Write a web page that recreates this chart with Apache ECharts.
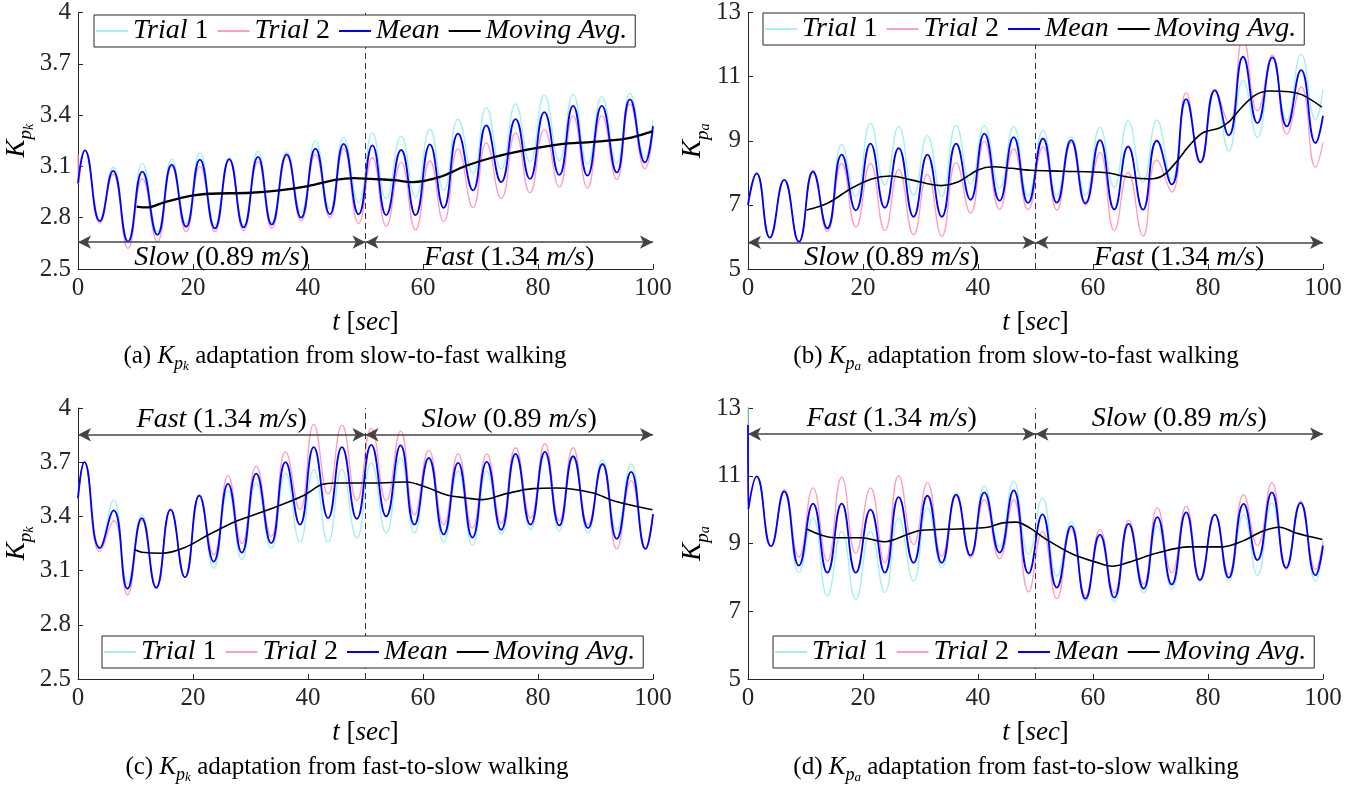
<!DOCTYPE html>
<html><head><meta charset="utf-8">
<script src="https://cdn.jsdelivr.net/npm/echarts@6/dist/echarts.min.js"></script>
<style>html,body{margin:0;padding:0;background:#fff}#c{width:1371px;height:789px}</style>
</head><body><div id="c"></div>
<script>
// ---------- data ----------
const xTicks = [0, 20, 40, 60, 80, 100];
const yTicksK = [2.5, 2.8, 3.1, 3.4, 3.7, 4];
const yTicksA = [5, 7, 9, 11, 13];
const seriesNames = ['Trial 1', 'Trial 2', 'Mean', 'Moving Avg.'];
const switchT = 50;
const phaseSpan = [0, 50, 100];
const phaseY = [2.657, 5.83, 3.852, 12.23];

// (a) K_pk slow-to-fast
const a_trial1 = [[0,3.0],[1.2,3.194],[3.8,2.78],[6.1,3.095],[8.7,2.67],[11.2,3.118],[13.8,2.718],[16.3,3.143],[18.8,2.766],[21.2,3.181],[23.8,2.756],[26.3,3.15],[28.8,2.756],[31.3,3.189],[33.7,2.775],[36.3,3.185],[38.8,2.832],[41.3,3.251],[43.8,2.85],[46.2,3.27],[48.8,2.89],[51.2,3.296],[53.6,2.911],[56.2,3.277],[58.7,2.92],[61.2,3.319],[63.6,2.96],[66.1,3.377],[68.7,3.061],[71.0,3.444],[73.6,3.085],[76.1,3.465],[78.6,3.127],[81.1,3.517],[83.7,3.133],[86.1,3.523],[88.6,3.113],[91.1,3.508],[93.7,3.12],[96.0,3.527],[98.6,3.15],[100,3.373]];
const a_trial2 = [[0,3.17],[0.1,3.0],[1.2,3.194],[3.8,2.77],[6.1,3.055],[8.7,2.62],[11.2,3.029],[13.8,2.66],[16.3,3.1],[18.8,2.718],[21.2,3.1],[23.8,2.718],[26.3,3.135],[28.8,2.724],[31.3,3.128],[33.7,2.737],[36.3,3.16],[38.8,2.78],[41.3,3.17],[43.8,2.80],[46.2,3.204],[48.8,2.766],[51.2,3.152],[53.6,2.752],[56.2,3.123],[58.7,2.729],[61.2,3.133],[63.6,2.777],[66.1,3.204],[68.7,2.86],[71.0,3.238],[73.6,2.911],[76.1,3.296],[78.6,2.946],[81.1,3.315],[83.7,2.979],[86.1,3.396],[88.6,2.973],[91.1,3.396],[93.7,3.023],[96.0,3.465],[98.6,3.085],[100,3.315]];
const a_mean = [[0,3.0],[1.2,3.194],[3.8,2.78],[6.1,3.074],[8.7,2.66],[11.2,3.07],[13.8,2.70],[16.3,3.11],[18.8,2.747],[21.2,3.14],[23.8,2.737],[26.3,3.143],[28.8,2.743],[31.3,3.156],[33.7,2.76],[36.3,3.17],[38.8,2.80],[41.3,3.204],[43.8,2.82],[46.2,3.232],[48.8,2.82],[51.2,3.223],[53.6,2.815],[56.2,3.196],[58.7,2.815],[61.2,3.229],[63.6,2.858],[66.1,3.292],[68.7,2.96],[71.0,3.34],[73.6,3.008],[76.1,3.377],[78.6,3.027],[81.1,3.417],[83.7,3.05],[86.1,3.454],[88.6,3.046],[91.1,3.454],[93.7,3.065],[96.0,3.492],[98.6,3.123],[100,3.335]];
const a_mavg = [[10.2,2.865],[12,2.86],[15,2.89],[20,2.93],[23,2.94],[30,2.946],[35,2.96],[40,2.985],[45,3.023],[48,3.032],[51,3.027],[55,3.02],[58.2,3.008],[62.8,3.037],[67.5,3.104],[72.1,3.152],[77.9,3.196],[83.7,3.229],[89.5,3.244],[95.3,3.262],[100,3.306]];

// (b) K_pa slow-to-fast
const b_trial1 = [[0,7.0],[1.5,7.98],[3.8,5.98],[6.3,7.78],[8.85,5.85],[11.3,8.0],[13.8,6.3],[16.3,8.88],[18.75,7.26],[21.3,9.55],[23.8,7.62],[26.2,9.45],[28.8,7.3],[31.2,9.16],[33.7,7.26],[36.2,9.47],[38.7,7.65],[41.1,9.47],[43.75,7.52],[46.2,9.45],[48.7,7.28],[51.3,9.32],[53.7,7.3],[56.2,9.12],[58.7,7.3],[61.2,9.42],[63.7,7.55],[66.1,9.62],[68.7,7.7],[71.1,9.65],[73.7,7.8],[76.2,10.2],[78.7,8.4],[81.2,10.55],[83.6,8.68],[86.1,10.88],[88.6,9.1],[91.2,11.6],[93.7,9.65],[96.2,11.7],[98.7,9.66],[100,10.62]];
const b_trial2 = [[0,7.0],[1.5,7.98],[3.8,5.98],[6.3,7.78],[8.85,5.85],[11.3,8.08],[13.8,6.17],[16.3,8.29],[18.75,6.31],[21.3,8.29],[23.8,6.2],[26.2,8.11],[28.8,6.07],[31.2,7.95],[33.7,6.02],[36.2,8.32],[38.7,6.74],[41.1,8.98],[43.75,6.86],[46.2,8.75],[48.7,6.85],[51.3,8.81],[53.7,6.84],[56.2,8.95],[58.7,7.0],[61.2,8.63],[63.7,6.2],[66.1,8.01],[68.7,6.03],[71.1,8.4],[73.7,7.4],[76.2,10.5],[78.7,8.3],[81.2,10.6],[83.6,9.57],[86.1,12.2],[88.6,9.93],[91.2,11.68],[93.7,9.2],[96.2,10.68],[98.7,8.18],[100,8.95]];
const b_mean = [[0,7.0],[1.5,7.98],[3.8,5.98],[6.3,7.78],[8.85,5.85],[11.3,8.04],[13.8,6.27],[16.3,8.57],[18.75,6.83],[21.3,8.91],[23.8,6.91],[26.2,8.77],[28.8,6.63],[31.2,8.57],[33.7,6.63],[36.2,8.91],[38.7,7.16],[41.1,9.22],[43.75,7.13],[46.2,9.11],[48.7,7.06],[51.3,9.07],[53.7,7.07],[56.2,9.02],[58.7,7.05],[61.2,9.02],[63.7,6.86],[66.1,8.82],[68.7,6.85],[71.1,9.0],[73.7,7.64],[76.2,10.3],[78.7,8.33],[81.2,10.57],[83.6,9.17],[86.1,11.62],[88.6,9.55],[91.2,11.6],[93.7,9.45],[96.2,11.2],[98.7,8.93],[100,9.78]];
const b_mavg = [[10.2,6.84],[13.9,7.06],[18,7.52],[21.5,7.81],[24.7,7.9],[28.4,7.78],[33.6,7.6],[36.5,7.71],[40,8.09],[42.6,8.19],[45.8,8.14],[49.2,8.08],[54.8,8.05],[62.3,8.0],[66.3,7.86],[69.8,7.81],[72.1,7.91],[74.4,8.32],[76.7,8.84],[79.1,9.25],[82,9.4],[83.7,9.6],[86,10.07],[88.3,10.43],[90.6,10.55],[94.1,10.53],[96.4,10.43],[99.8,10.05]];

// (c) K_pk fast-to-slow
const c_trial1 = [[0,3.50],[1.1,3.70],[3.8,3.23],[6.2,3.49],[8.6,3.03],[11.1,3.41],[13.6,3.005],[16.1,3.437],[18.6,3.063],[21.1,3.515],[23.6,3.113],[26.1,3.543],[28.5,3.16],[31.0,3.585],[33.6,3.224],[36.1,3.64],[38.6,3.257],[41.0,3.659],[43.5,3.256],[45.9,3.66],[48.5,3.28],[51.0,3.696],[53.6,3.307],[56.1,3.724],[58.5,3.307],[61.0,3.715],[63.6,3.256],[66.1,3.65],[68.6,3.239],[71.1,3.65],[73.6,3.30],[76.1,3.733],[78.7,3.326],[81.2,3.742],[83.7,3.317],[86.1,3.724],[88.7,3.307],[91.2,3.715],[93.7,3.326],[96.2,3.69],[98.7,3.225],[100,3.41]];
const c_trial2 = [[0,3.50],[1.1,3.70],[3.8,3.205],[6.2,3.376],[8.6,2.965],[11.1,3.38],[13.6,3.005],[16.1,3.437],[18.6,3.063],[21.1,3.52],[23.6,3.187],[26.1,3.626],[28.5,3.25],[31.0,3.678],[33.6,3.289],[36.1,3.757],[38.6,3.437],[41.0,3.909],[43.5,3.524],[45.9,3.905],[48.5,3.487],[51.0,3.887],[53.6,3.487],[56.1,3.872],[58.5,3.41],[61.0,3.765],[63.6,3.354],[66.1,3.746],[68.6,3.335],[71.1,3.746],[73.6,3.363],[76.1,3.78],[78.7,3.39],[81.2,3.802],[83.7,3.376],[86.1,3.78],[88.7,3.354],[91.2,3.687],[93.7,3.22],[96.2,3.598],[98.7,3.22],[100,3.41]];
const c_mean = [[0,3.50],[1.1,3.70],[3.8,3.224],[6.2,3.433],[8.6,3.0],[11.1,3.39],[13.6,3.005],[16.1,3.437],[18.6,3.063],[21.1,3.515],[23.6,3.15],[26.1,3.58],[28.5,3.2],[31.0,3.637],[33.6,3.252],[36.1,3.70],[38.6,3.354],[41.0,3.783],[43.5,3.39],[45.9,3.783],[48.5,3.387],[51.0,3.796],[53.6,3.40],[56.1,3.793],[58.5,3.354],[61.0,3.724],[63.6,3.30],[66.1,3.696],[68.6,3.283],[71.1,3.702],[73.6,3.326],[76.1,3.746],[78.7,3.354],[81.2,3.757],[83.7,3.35],[86.1,3.733],[88.7,3.335],[91.2,3.69],[93.7,3.276],[96.2,3.646],[98.7,3.22],[100,3.413]];
const c_mavg = [[9.9,3.215],[11.1,3.202],[14.6,3.196],[18.6,3.228],[22.7,3.298],[27.4,3.372],[32,3.424],[36.6,3.48],[39.5,3.52],[42.4,3.576],[44.8,3.585],[51.7,3.585],[57.1,3.59],[60.6,3.561],[64,3.52],[67.5,3.502],[70.4,3.493],[74.5,3.526],[79.1,3.554],[83.2,3.557],[89.6,3.53],[93.1,3.487],[99.9,3.437]];

// (d) K_pa fast-to-slow
const d_trial1 = [[0,13.0],[0.05,10.0],[1.5,10.98],[4.0,8.92],[6.3,10.54],[8.85,8.14],[11.3,9.75],[13.8,7.45],[16.3,9.36],[18.75,7.35],[21.3,9.36],[23.8,7.55],[26.2,9.75],[28.8,7.89],[31.2,10.05],[33.7,8.28],[36.2,10.5],[38.7,8.63],[41.1,10.7],[43.75,8.9],[46.2,10.85],[48.8,8.68],[51.2,10.34],[53.7,8.04],[56.2,9.64],[58.7,7.30],[61.2,9.22],[63.7,7.27],[66.2,9.61],[68.8,7.53],[71.2,9.51],[73.7,7.65],[76.2,9.95],[78.6,7.88],[81.2,9.85],[83.6,7.89],[86.2,9.85],[88.6,8.06],[91.1,10.19],[93.6,8.35],[96.1,10.2],[98.7,7.89],[100,8.85]];
const d_trial2 = [[0,12.0],[0.05,10.0],[1.5,10.98],[4.0,8.92],[6.3,10.6],[8.85,8.6],[11.3,10.64],[13.8,8.48],[16.3,10.96],[18.75,8.71],[21.3,10.64],[23.8,8.43],[26.2,11.0],[28.8,8.97],[31.2,10.8],[33.7,8.63],[36.2,10.39],[38.7,8.58],[41.1,10.29],[43.75,8.55],[46.2,10.29],[48.8,7.57],[51.2,9.36],[53.7,7.37],[56.2,9.43],[58.7,7.45],[61.2,9.41],[63.7,7.55],[66.2,9.69],[68.8,7.8],[71.2,10.05],[73.7,8.14],[76.2,10.1],[78.6,7.95],[81.2,9.85],[83.6,8.09],[86.2,10.44],[88.6,8.94],[91.1,10.8],[93.6,8.24],[96.1,10.25],[98.7,8.24],[100,9.07]];
const d_mean = [[0,12.5],[0.05,10.0],[1.5,10.98],[4.0,8.92],[6.3,10.54],[8.85,8.35],[11.3,10.18],[13.8,8.14],[16.3,10.18],[18.75,8.14],[21.3,10.0],[23.8,8.14],[26.2,10.37],[28.8,8.43],[31.2,10.41],[33.7,8.43],[36.2,10.44],[38.7,8.65],[41.1,10.51],[43.75,8.73],[46.2,10.57],[48.8,8.12],[51.2,9.86],[53.7,7.70],[56.2,9.51],[58.7,7.37],[61.2,9.26],[63.7,7.40],[66.2,9.58],[68.8,7.67],[71.2,9.78],[73.7,7.79],[76.2,9.92],[78.6,7.92],[81.2,9.85],[83.6,7.99],[86.2,10.17],[88.6,8.51],[91.1,10.51],[93.6,8.28],[96.1,10.2],[98.7,8.06],[100,8.94]];
const d_mavg = [[10.2,9.43],[15.1,9.17],[19.7,9.17],[23.8,9.05],[25.5,9.12],[30.2,9.39],[36.5,9.43],[41.7,9.48],[44.3,9.61],[46.6,9.63],[49,9.46],[51.6,9.15],[56.5,8.68],[60.5,8.45],[63.4,8.33],[66.3,8.45],[71,8.71],[76.7,8.9],[82.5,8.9],[86,9.07],[89.5,9.36],[92.4,9.48],[95.3,9.31],[99.9,9.12]];

// ---------- styling / layout ----------
const FONT = 'Liberation Serif';
const AX = '#262626';
const colors = ['#a4f0f0', '#ff9cc3', '#0000ff', '#000000'];
const widths = [1.3, 1.3, 1.8, 1.8];

function mathRich(size) {
  return {
    i: {fontFamily: FONT, fontStyle: 'italic', fontSize: size, color: '#000'},
    u: {fontFamily: FONT, fontSize: size, color: '#000'}
  };
}
function kRich(size) {
  return {
    K: {fontFamily: FONT, fontStyle: 'italic', fontSize: size, lineHeight: Math.round(size * 1.4), verticalAlign: 'middle', color: '#000'},
    p: {fontFamily: FONT, fontStyle: 'italic', fontSize: Math.round(size * 0.7), lineHeight: Math.round(size * 0.7), verticalAlign: 'bottom', color: '#000'},
    k: {fontFamily: FONT, fontStyle: 'italic', fontSize: Math.round(size * 0.5), lineHeight: Math.round(size * 0.25), verticalAlign: 'bottom', color: '#000'}
  };
}
const slowTxt = '{i|Slow}{u| (0.89 }{i|m/s}{u|)}';
const fastTxt = '{i|Fast}{u| (1.34 }{i|m/s}{u|)}';

const panels = [
  {grid: {left: 78, top: 7, width: 575, height: 262}, y: [2.5, 4], yt: yTicksK, sub: 'k', gap: 41,
   data: [a_trial1, a_trial2, a_mean, a_mavg], leg: {left: 94, top: 15}, pos: 'insideMiddleBottom',
   phases: [slowTxt, fastTxt], cap: '(a) ', tail: ' adaptation from slow-to-fast walking', capX: 345, capY: 356, mw: 2.3},
  {grid: {left: 748, top: 8, width: 575, height: 261}, y: [5, 13], yt: yTicksA, sub: 'a', gap: 32,
   data: [b_trial1, b_trial2, b_mean, b_mavg], leg: {left: 763, top: 13}, pos: 'insideMiddleBottom',
   phases: [slowTxt, fastTxt], cap: '(b) ', tail: ' adaptation from slow-to-fast walking', capX: 1016, capY: 356, mw: 1.6},
  {grid: {left: 78, top: 408, width: 575, height: 271}, y: [2.5, 4], yt: yTicksK, sub: 'k', gap: 41,
   data: [c_trial1, c_trial2, c_mean, c_mavg], leg: {left: 102, top: 636}, pos: 'insideMiddleTop',
   phases: [fastTxt, slowTxt], cap: '(c) ', tail: ' adaptation from fast-to-slow walking', capX: 347, capY: 767, mw: 1.6},
  {grid: {left: 748, top: 408, width: 575, height: 271}, y: [5, 13], yt: yTicksA, sub: 'a', gap: 32,
   data: [d_trial1, d_trial2, d_mean, d_mavg], leg: {left: 773, top: 636}, pos: 'insideMiddleTop',
   phases: [fastTxt, slowTxt], cap: '(d) ', tail: ' adaptation from fast-to-slow walking', capX: 1016, capY: 767, mw: 1.6}
];

const grids = [], xAxes = [], yAxes = [], series = [], legends = [], graphics = [];
const legendFmt = n => n === 'Trial 1' ? '{i|Trial }{u|1}' : n === 'Trial 2' ? '{i|Trial }{u|2}' : '{i|' + n + '}';

panels.forEach((p, i) => {
  grids.push(Object.assign({containLabel: false}, p.grid));
  xAxes.push({
    gridIndex: i, type: 'value', min: xTicks[0], max: xTicks[xTicks.length - 1], interval: 20,
    axisLine: {show: true, onZero: false, lineStyle: {color: AX, width: 1}},
    axisTick: {show: true, inside: true, length: 5, lineStyle: {color: AX}},
    axisLabel: {margin: 7, fontFamily: FONT, fontSize: 25, color: AX},
    splitLine: {show: false},
    name: '{i|t}{u| [}{i|sec}{u|]}', nameLocation: 'middle', nameGap: 40,
    nameTextStyle: {rich: mathRich(27)}
  });
  yAxes.push({
    gridIndex: i, type: 'value', min: p.y[0], max: p.y[1],
    axisLine: {show: true, onZero: false, lineStyle: {color: AX, width: 1}},
    axisTick: {show: true, inside: true, length: 5, customValues: p.yt, lineStyle: {color: AX}},
    axisLabel: {customValues: p.yt, margin: 7, fontFamily: FONT, fontSize: 25, color: AX},
    splitLine: {show: false},
    name: '{K|K}{p|p}{k|' + p.sub + '}', nameLocation: 'middle', nameRotate: 90, nameGap: p.gap,
    nameTextStyle: {rich: kRich(27)}
  });
  p.data.forEach((d, j) => {
    const s = {
      type: 'line', name: seriesNames[j], xAxisIndex: i, yAxisIndex: i, data: d,
      symbol: 'none', showSymbol: false, smooth: j === 3 ? 0.35 : 0.5,
      lineStyle: {color: colors[j], width: j === 3 ? p.mw : widths[j]},
      itemStyle: {color: colors[j]}, z: 2 + j, animation: false
    };
    if (j === 3) {
      const ay = phaseY[i];
      const arrowStyle = {type: 'solid', color: '#444', width: 1.5};
      const lab = (t) => ({show: true, position: p.pos, formatter: t, distance: 1, rich: mathRich(28)});
      s.markLine = {
        silent: true, animation: false, symbol: ['none', 'none'],
        data: [
          [{coord: [switchT, p.y[0]], lineStyle: {type: [6, 4], color: '#333', width: 1}, label: {show: false}}, {coord: [switchT, p.y[1]]}],
          [{coord: [phaseSpan[0], ay], symbol: 'arrow', symbolSize: [10, 13], lineStyle: arrowStyle, label: lab(p.phases[0])},
           {coord: [phaseSpan[1], ay], symbol: 'arrow', symbolSize: [10, 13]}],
          [{coord: [phaseSpan[1], ay], symbol: 'arrow', symbolSize: [10, 13], lineStyle: arrowStyle, label: lab(p.phases[1])},
           {coord: [phaseSpan[2], ay], symbol: 'arrow', symbolSize: [10, 13]}]
        ]
      };
    }
    series.push(s);
  });
  legends.push({
    left: p.leg.left, top: p.leg.top, orient: 'horizontal', data: seriesNames, selectedMode: false,
    icon: 'rect', itemWidth: 32, itemHeight: 2, itemGap: 9, padding: [2, 8, 2, 2],
    borderColor: AX, borderWidth: 1, borderRadius: 0, backgroundColor: '#fff', z: 10,
    formatter: legendFmt, textStyle: {fontFamily: FONT, fontSize: 28, color: '#000', rich: mathRich(28)}
  });
  const cr = kRich(25);
  cr.u = {fontFamily: FONT, fontSize: 25, fill: '#000'};
  Object.keys(cr).forEach(k => { if (cr[k].color) { cr[k].fill = cr[k].color; delete cr[k].color; } });
  graphics.push({
    type: 'text', x: p.capX, y: p.capY, silent: true,
    style: {text: '{u|' + p.cap + '}{K|K}{p|p}{k|' + p.sub + '}{u|' + p.tail + '}', rich: cr, align: 'center', verticalAlign: 'middle', fill: '#000'}
  });
});

const chart = echarts.init(document.getElementById('c'), null, {renderer: 'canvas'});
chart.setOption({
  animation: false, backgroundColor: '#fff',
  grid: grids, xAxis: xAxes, yAxis: yAxes, series: series, legend: legends, graphic: graphics
});
</script></body></html>
